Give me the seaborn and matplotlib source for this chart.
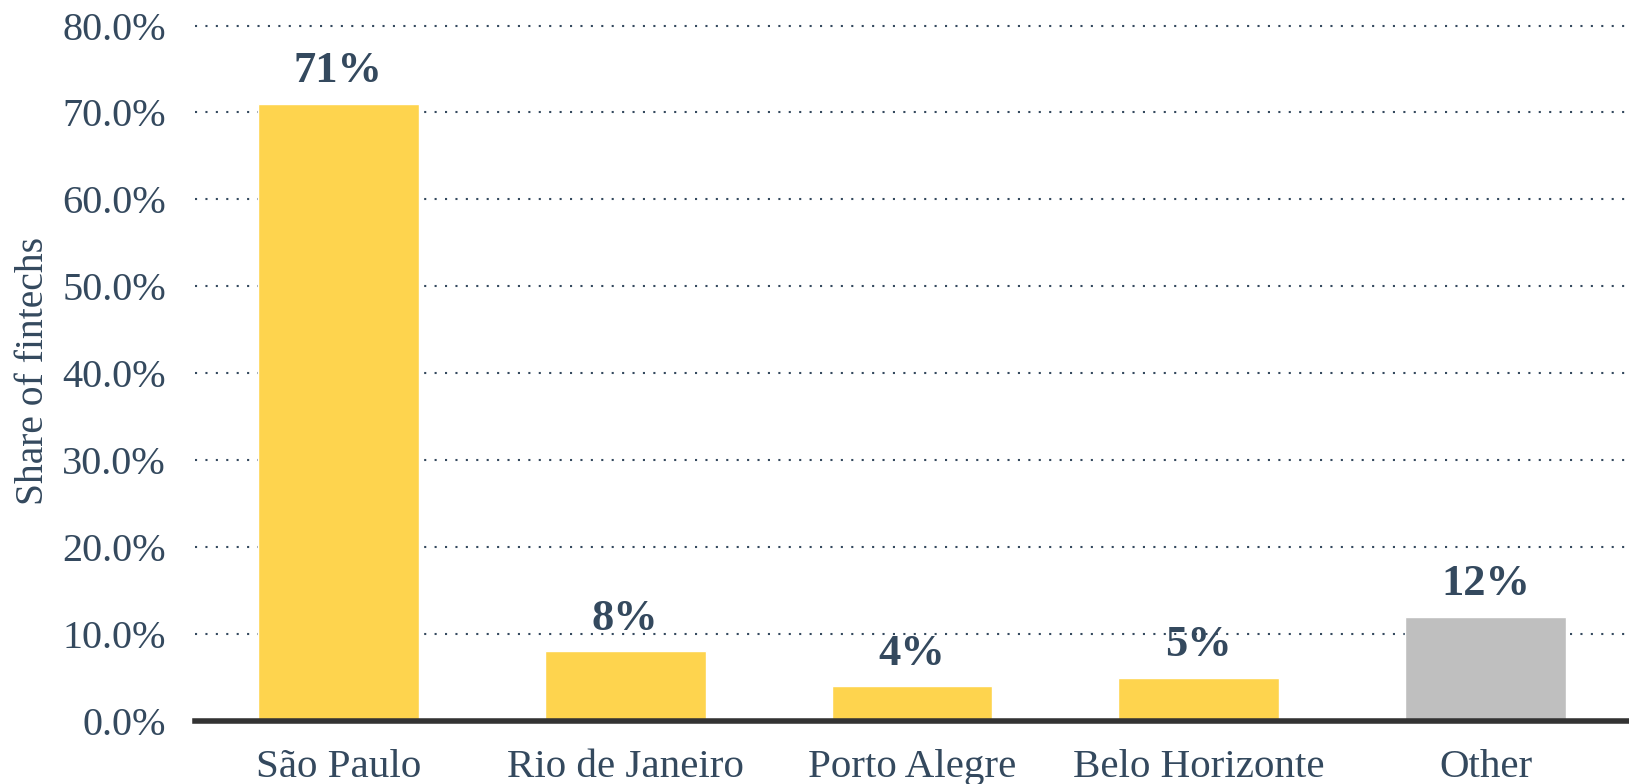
import matplotlib
matplotlib.use("Agg")
import matplotlib.pyplot as plt
import seaborn as sns
import pandas as pd
from matplotlib.ticker import FuncFormatter

cities = ["São Paulo", "Rio de Janeiro", "Porto Alegre", "Belo Horizonte", "Other"]
shares = [71, 8, 4, 5, 12]
bar_colors = ["#FED44E", "#FED44E", "#FED44E", "#FED44E", "#BFBFBF"]
y_ticks = [0, 10, 20, 30, 40, 50, 60, 70, 80]

sns.set_theme(style="white")
plt.rcParams["font.family"] = ["Liberation Serif", "DejaVu Serif"]
text_color = "#34495E"

df = pd.DataFrame({"city": cities, "share": shares})

fig = plt.figure(figsize=(16.29, 7.84), dpi=100)
ax = fig.add_axes([195/1629, 63/784, 1 - 195/1629, (759 - 63)/784 + 0.006])

sns.barplot(data=df, x="city", y="share", hue="city", palette=bar_colors,
            legend=False, width=0.56, ax=ax, saturation=1)

ax.set_xlim(-0.5, 4.5)
ax.set_ylim(0, 80.6)
ax.set_yticks(y_ticks)
ax.yaxis.set_major_formatter(FuncFormatter(lambda v, p: f"{v:.1f}%"))
ax.yaxis.grid(True, linestyle=(0, (1, 4)), color="#34495E", linewidth=1.5)
ax.set_axisbelow(True)
for s in ["top", "right", "left"]:
    ax.spines[s].set_visible(False)
ax.spines["bottom"].set_color("#333333")
ax.spines["bottom"].set_linewidth(4)

ax.tick_params(axis="y", labelsize=29, labelcolor=text_color, length=0, pad=21)
ax.tick_params(axis="x", labelsize=29.5, labelcolor=text_color, length=0, pad=20)
ax.set_xlabel("")
ax.set_ylabel("Share of fintechs", fontsize=28.5, color=text_color)
ax.yaxis.set_label_coords(-0.1, 0.5)

for i, v in enumerate(shares):
    ax.annotate(f"{v}%", (i, v), xytext=(0, 9), textcoords="offset points",
                ha="center", va="bottom", fontsize=32, fontweight="bold",
                color=text_color)

ax.patch.set_alpha(0)
fig.savefig("out.png", dpi=100)
